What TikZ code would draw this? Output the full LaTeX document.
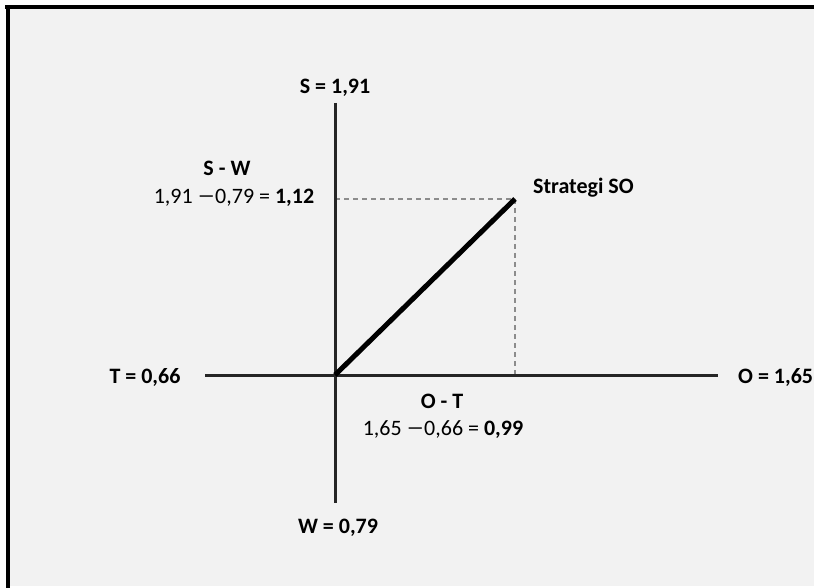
\documentclass[tikz,border=0pt]{standalone}
\usepackage{fontspec}
\usepackage{graphicx}
\setmainfont{Carlito}
\definecolor{bggray}{HTML}{F2F2F2}
\definecolor{axisgray}{HTML}{262626}
\definecolor{dashgray}{HTML}{8C8C8C}
\newcommand{\wideminus}{\scalebox{1.6}[1]{−}}
\begin{document}
\begin{tikzpicture}[x=1pt,y=-1pt,
  axis/.style={line width=3pt, draw=axisgray},
  vector/.style={line width=5pt, draw=black},
  guide/.style={line width=1.3pt, draw=dashgray, dash pattern=on 5pt off 4pt},
  lbl/.style={font=\fontsize{22}{26}\selectfont\bfseries, inner sep=0pt},
  eq/.style={font=\fontsize{22}{26}\selectfont, inner sep=0pt}]
\useasboundingbox (0,0) rectangle (814,588);
\fill[white] (0,0) rectangle (814,588);
\fill[bggray] (10,9) rectangle (814,586);
\fill[black] (5,5) rectangle (814,9);
\fill[black] (6,5) rectangle (10,588);

\coordinate (o) at (335,375);
\coordinate (top) at (335,103);
\coordinate (bot) at (335,503);
\coordinate (left) at (205,375);
\coordinate (right) at (718,375);
\coordinate (p) at (515,199);
\coordinate (py) at (335,199);
\coordinate (px) at (515,375);

\draw[guide] (py) -- (p);
\draw[guide] (p) -- (px);
\draw[axis] (top) -- (bot);
\draw[axis] (left) -- (right);
\draw[vector] (o) -- (p);

\node[lbl] (s) at (335,88) {S = 1,91};
\node[lbl] (w) at (338,528) {W = 0,79};
\node[lbl] (t) at (145,377) {T = 0,66};
\node[lbl, anchor=west] (oo) at (738,377) {O = 1,65};
\node[lbl] (sw) at (227,168) {S - W};
\node[eq] (sweq) at (234,198) {1,91 \wideminus0,79 = \textbf{1,12}};
\node[lbl, anchor=west] (so) at (533,188) {Strategi SO};
\node[lbl] (ot) at (442,401) {O - T};
\node[eq] (oteq) at (443,430) {1,65 \wideminus0,66 = \textbf{0,99}};
\end{tikzpicture}
\end{document}
